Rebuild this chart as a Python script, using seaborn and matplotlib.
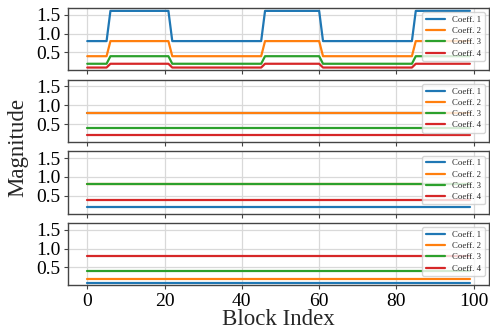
import numpy as np
import pandas as pd
import seaborn as sns
import matplotlib.pyplot as plt

# ---- data -------------------------------------------------------------
blocks = np.arange(100)
coeff_names = ["Coeff. 1", "Coeff. 2", "Coeff. 3", "Coeff. 4"]

# Panel 1: coefficients switch between a low and a high level
low_levels = [0.8, 0.4, 0.2, 0.1]
high_levels = [1.6, 0.8, 0.4, 0.2]
high_segments = [(6, 21), (46, 60), (85, 99)]  # inclusive block ranges at the high level

# Panels 2-4: constant coefficient magnitudes
const_levels = [
    [0.8, 0.8, 0.4, 0.2],
    [0.2, 0.8, 0.8, 0.4],
    [0.1, 0.2, 0.4, 0.8],
]

x_ticks = [0, 20, 40, 60, 80, 100]
y_ticks = [0.5, 1.0, 1.5]


def switching_frame():
    is_high = np.zeros(len(blocks), dtype=bool)
    for start, stop in high_segments:
        is_high[start:stop + 1] = True
    rows = []
    for name, lo, hi in zip(coeff_names, low_levels, high_levels):
        vals = np.where(is_high, hi, lo)
        rows.append(pd.DataFrame({"Block": blocks, "Magnitude": vals, "Coefficient": name}))
    return pd.concat(rows, ignore_index=True)


def constant_frame(levels):
    rows = []
    for name, v in zip(coeff_names, levels):
        rows.append(pd.DataFrame({"Block": blocks, "Magnitude": np.full(len(blocks), v),
                                  "Coefficient": name}))
    return pd.concat(rows, ignore_index=True)


frames = [switching_frame()] + [constant_frame(l) for l in const_levels]

# ---- style ------------------------------------------------------------
sns.set_style("whitegrid")
plt.rcParams["font.family"] = ["Liberation Serif", "DejaVu Serif"]
plt.rcParams.update({
    "axes.edgecolor": "#444444",
    "axes.linewidth": 1.0,
    "grid.color": "#d9d9d9",
    "grid.linewidth": 0.9,
    "xtick.bottom": True,
    "ytick.left": True,
    "xtick.color": "#444444",
    "ytick.color": "#444444",
    "xtick.labelcolor": "black",
    "ytick.labelcolor": "black",
    "xtick.major.size": 3.0,
    "ytick.major.size": 3.0,
    "xtick.major.pad": 2.5,
    "ytick.major.pad": 2.5,
    "xtick.labelsize": 14,
    "ytick.labelsize": 14,
})

palette = dict(zip(coeff_names, sns.color_palette("tab10", 4)))

fig, axes = plt.subplots(4, 1, sharex=True, sharey=True, figsize=(4.9, 3.35), dpi=100)
fig.subplots_adjust(left=0.139, right=0.998, top=0.976, bottom=0.148, hspace=0.15)

for ax, df in zip(axes, frames):
    sns.lineplot(data=df, x="Block", y="Magnitude", hue="Coefficient",
                 palette=palette, linewidth=1.6, ax=ax)
    ax.set_xlabel("")
    ax.set_ylabel("")
    ax.set_yticks(y_ticks)
    ax.set_xticks(x_ticks)
    sns.move_legend(ax, "upper right", title=None, fontsize=6.3,
                    framealpha=0.8, borderpad=0.4, labelspacing=0.35,
                    handlelength=2.2, borderaxespad=0.5)

fig.text(0.569, 0.045, "Block Index", ha="center", va="center", fontsize=16.5)
fig.text(0.037, 0.56, "Magnitude", ha="center", va="center", rotation=90, fontsize=16.5)

fig.savefig("out.png", dpi=100)
